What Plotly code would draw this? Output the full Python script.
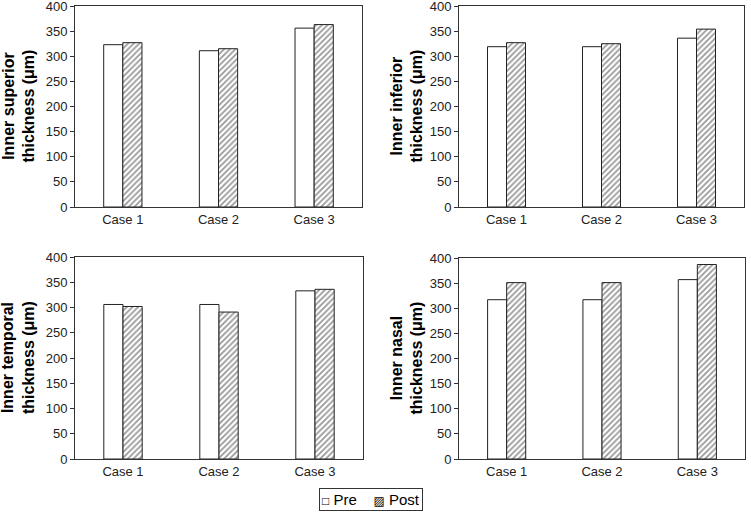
import plotly.graph_objects as go

categories = ["Case 1", "Case 2", "Case 3"]
superior_pre = [323, 311, 356]
superior_post = [327, 315, 363]
inferior_pre = [319, 319, 336]
inferior_post = [327, 325, 354]
temporal_pre = [306, 306, 333]
temporal_post = [302, 291, 336]
nasal_pre = [317, 317, 357]
nasal_post = [351, 351, 387]
y_titles = ["Inner superior<br>thickness (μm)", "Inner inferior<br>thickness (μm)",
            "Inner temporal<br>thickness (μm)", "Inner nasal<br>thickness (μm)"]
y_ticks = [0, 50, 100, 150, 200, 250, 300, 350, 400]
series_names = ["Pre", "Post"]
legend_symbols = ["□", "▨"]

W, H = 751, 516
panels = [
    (superior_pre, superior_post, (75, 362), (6, 207), 18, y_titles[0]),
    (inferior_pre, inferior_post, (459, 744), (6, 207), 406, y_titles[1]),
    (temporal_pre, temporal_post, (75, 363), (257, 459), 18, y_titles[2]),
    (nasal_pre, nasal_post, (459, 745), (258, 459), 406, y_titles[3]),
]

fig = go.Figure()
font = "Liberation Sans, Arial, DejaVu Sans, sans-serif"
annotations = []
for i, (pre, post, xr, yr, tx, title) in enumerate(panels):
    n = "" if i == 0 else str(i + 1)
    fig.add_trace(go.Bar(
        x=categories, y=pre, name=series_names[0], xaxis="x" + n, yaxis="y" + n,
        marker=dict(color="white", line=dict(color="#222", width=1)),
        showlegend=False))
    fig.add_trace(go.Bar(
        x=categories, y=post, name=series_names[1], xaxis="x" + n, yaxis="y" + n,
        marker=dict(color="white", line=dict(color="#222", width=1),
                    pattern=dict(shape="/", size=4, solidity=0.45,
                                 fgcolor="#333", bgcolor="white")),
        showlegend=False))
    xd = [xr[0] / W, xr[1] / W]
    yd = [1 - yr[1] / H, 1 - yr[0] / H]
    axcommon = dict(showline=True, linecolor="#333", linewidth=1, mirror=True,
                    showgrid=False, zeroline=False, automargin=False,
                    ticklabeloverflow="allow")
    fig.update_layout(**{
        "xaxis" + n: dict(domain=xd, anchor="y" + n, ticks="",
                          tickfont=dict(size=13, color="#222", family=font), **axcommon),
        "yaxis" + n: dict(domain=yd, anchor="x" + n, range=[0, 400], tickvals=y_ticks,
                          ticks="outside", ticklen=4, tickcolor="#333",
                          tickfont=dict(size=13, color="#222", family=font), **axcommon),
    })
    annotations.append(dict(
        text="<b>" + title + "</b>", x=tx / W, y=1 - (yr[0] + yr[1]) / 2 / H,
        xref="paper", yref="paper", textangle=-90, showarrow=False,
        xanchor="center", yanchor="middle",
        font=dict(size=16, color="black", family=font)))

legend_text = "&nbsp;&nbsp;&nbsp;&nbsp;".join(
    "<span style='font-size:12px'>%s</span>&nbsp;%s" % (s, nm)
    for s, nm in zip(legend_symbols, series_names))
annotations.append(dict(
    text=legend_text, x=371 / W, y=1 - 499 / H, xref="paper", yref="paper",
    showarrow=False, xanchor="center", yanchor="middle",
    bordercolor="#333", borderwidth=1, borderpad=2, bgcolor="white",
    font=dict(size=15, color="black", family=font)))

fig.update_layout(
    width=W, height=H, margin=dict(l=0, r=0, t=0, b=0, autoexpand=False),
    paper_bgcolor="white", plot_bgcolor="white",
    barmode="group", bargap=0.6, bargroupgap=0,
    annotations=annotations, showlegend=False,
)
fig.write_html("out.html", config={"displayModeBar": False},
               post_script="document.body.style.margin='0';document.body.style.overflow='hidden';")
